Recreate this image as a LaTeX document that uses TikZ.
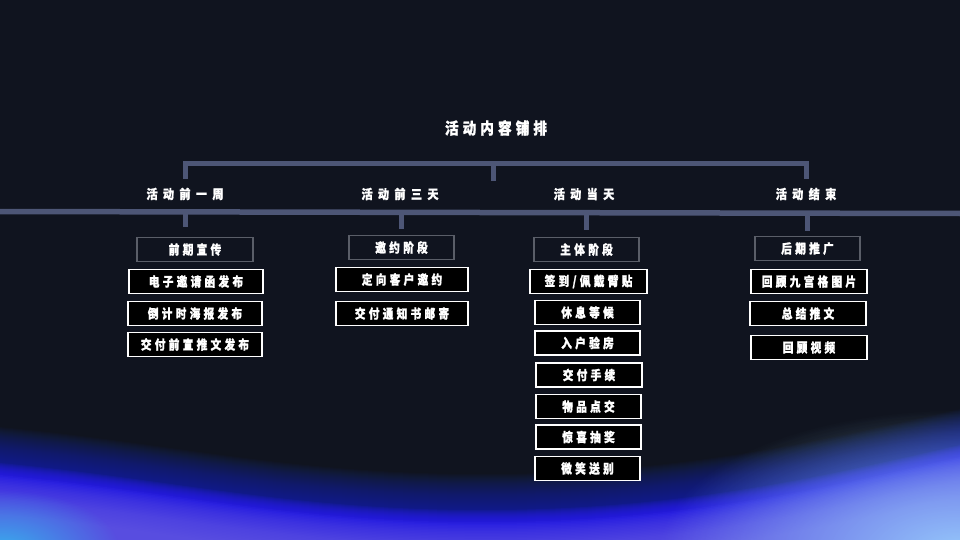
\documentclass[tikz,border=0pt]{standalone}
\usepackage{fontspec}
\usepackage{graphicx}
\newfontfamily\cjk{Noto Sans CJK SC}[BoldFeatures={FakeBold=1.3}]
\usetikzlibrary{fadings}
\tikzfading[name=glowfade, inner color=transparent!0, outer color=transparent!100]
\definecolor{bg}{HTML}{10141F}
\definecolor{linec}{HTML}{4D5676}
\definecolor{grayb}{HTML}{5A5E68}
\definecolor{halo}{HTML}{1838C8}
\definecolor{wblue}{HTML}{2A20F0}
\definecolor{lav}{HTML}{6E62F0}
\definecolor{lcyan}{HTML}{A0DCFF}
\definecolor{ccyan}{HTML}{30C8F0}
\ExplSyntaxOn
\NewDocumentCommand\spaced{mm}{\tl_map_inline:nn{#2}{##1\hspace{#1}}\unskip}
\ExplSyntaxOff
\newcommand\boxtxt[1]{\scalebox{0.82}[1]{\cjk\bfseries\fontsize{13}{13}\selectfont\spaced{4pt}{#1}}}
\newcommand\headtxt[1]{\scalebox{0.85}[1]{\cjk\bfseries\fontsize{13}{13}\selectfont\spaced{6.4pt}{#1}}}
\newcommand\titletxt[1]{\scalebox{0.85}[1]{\cjk\bfseries\fontsize{16}{16}\selectfont\spaced{4.8pt}{#1}}}
\newcommand\wave[1]{(0,{463+#1}) .. controls (180,{480+#1}) and (300,{512+#1}) .. (500,{510+#1}) .. controls (700,{508+#1}) and (850,{470+#1}) .. (960,{445+#1})}
\begin{document}
\begin{tikzpicture}[x=1pt,y=-1pt,
  blk/.style={draw=white, fill=black, line width=1.2pt, minimum height=24pt, inner sep=0pt, text=white},
  gbox/.style={draw=grayb, line width=1.2pt, minimum height=24pt, inner sep=0pt, text=white},
  head/.style={text=white, inner sep=0pt},
  conn/.style={draw=linec, line width=5pt}]
\fill[bg] (0,0) rectangle (960,540);
\useasboundingbox (0,0) rectangle (960,540);
% bottom glow
\begin{scope}
\clip (0,0) rectangle (960,540);
\foreach \o in {-36,-35,...,0} {\fill[halo, opacity=0.03] \wave{\o} -- (960,540) -- (0,540) -- cycle;}
\foreach \o in {0,1,...,14} {\fill[wblue, opacity=0.12] \wave{\o} -- (960,540) -- (0,540) -- cycle;}
\foreach \o in {12,13.5,...,52} {\fill[lav, opacity=0.06] \wave{\o} -- (960,540) -- (0,540) -- cycle;}
\fill[lcyan, path fading=glowfade, opacity=0.85] (960,550) ellipse [x radius=300, y radius=140];
\fill[ccyan, path fading=glowfade, opacity=0.8] (0,550) ellipse [x radius=120, y radius=60];
\end{scope}
% title and headers
\node[head] (T) at (496,128) {\titletxt{活动内容铺排}};
\node[head] (t1) at (185,194) {\headtxt{活动前一周}};
\node[head] (t2) at (400,194) {\headtxt{活动前三天}};
\node[head] (t3) at (584,194) {\headtxt{活动当天}};
\node[head] (t4) at (806,194) {\headtxt{活动结束}};
% connectors
\coordinate (a1) at (185.5,179);
\coordinate (a4) at (806.5,179);
\coordinate (am) at (493.5,181);
\coordinate (bm) at (493.5,163.5);
\draw[conn] (a1) |- (bm) -| (a4);
\draw[conn] (bm) -- (am);
\coordinate (L0) at (0,211.5);
\coordinate (L1) at (960,213.5);
\draw[conn, line width=5.5pt] (L0) -- (L1);
\coordinate (v1) at (185.5,212);
\coordinate (v2) at (401.5,212);
\coordinate (v3) at (586.5,212);
\coordinate (v4) at (807.5,212);
\coordinate (w1) at (185.5,227);
\coordinate (w2) at (401.5,229);
\coordinate (w3) at (586.5,230);
\coordinate (w4) at (807.5,231);
\draw[conn] (v1) -- (w1);
\draw[conn] (v2) -- (w2);
\draw[conn] (v3) -- (w3);
\draw[conn] (v4) -- (w4);
% column 1
\node[gbox, minimum width=116pt] (p1) at (195,249.5) {\boxtxt{前期宣传}};
\node[blk, minimum width=134pt] (e1) at (196,281.5) {\boxtxt{电子邀请函发布}};
\node[blk, minimum width=134pt] (e2) at (195,313.5) {\boxtxt{倒计时海报发布}};
\node[blk, minimum width=134pt] (e3) at (195,344.5) {\boxtxt{交付前宣推文发布}};
% column 2
\node[gbox, minimum width=105pt] (p2) at (401.5,247.5) {\boxtxt{邀约阶段}};
\node[blk, minimum width=132pt] (f1) at (402,279.5) {\boxtxt{定向客户邀约}};
\node[blk, minimum width=132pt] (f2) at (402,313.5) {\boxtxt{交付通知书邮寄}};
% column 3
\node[gbox, minimum width=105pt] (p3) at (586.5,249.5) {\boxtxt{主体阶段}};
\node[blk, minimum width=117pt] (g1) at (588.5,281.5) {\boxtxt{签到/佩戴臂贴}};
\node[blk, minimum width=105pt] (g2) at (587.5,312.5) {\boxtxt{休息等候}};
\node[blk, minimum width=105pt] (g3) at (587.5,343) {\boxtxt{入户验房}};
\node[blk, minimum width=106pt] (g4) at (589,375) {\boxtxt{交付手续}};
\node[blk, minimum width=105pt] (g5) at (588.5,406.5) {\boxtxt{物品点交}};
\node[blk, minimum width=105pt] (g6) at (588.5,437) {\boxtxt{惊喜抽奖}};
\node[blk, minimum width=105pt] (g7) at (587.5,468.5) {\boxtxt{微笑送别}};
% column 4
\node[gbox, minimum width=105pt] (p4) at (807.5,248.5) {\boxtxt{后期推广}};
\node[blk, minimum width=116pt] (h1) at (809,281.5) {\boxtxt{回顾九宫格图片}};
\node[blk, minimum width=116pt] (h2) at (808,313.5) {\boxtxt{总结推文}};
\node[blk, minimum width=116pt] (h3) at (809,347.5) {\boxtxt{回顾视频}};
\end{tikzpicture}
\end{document}
